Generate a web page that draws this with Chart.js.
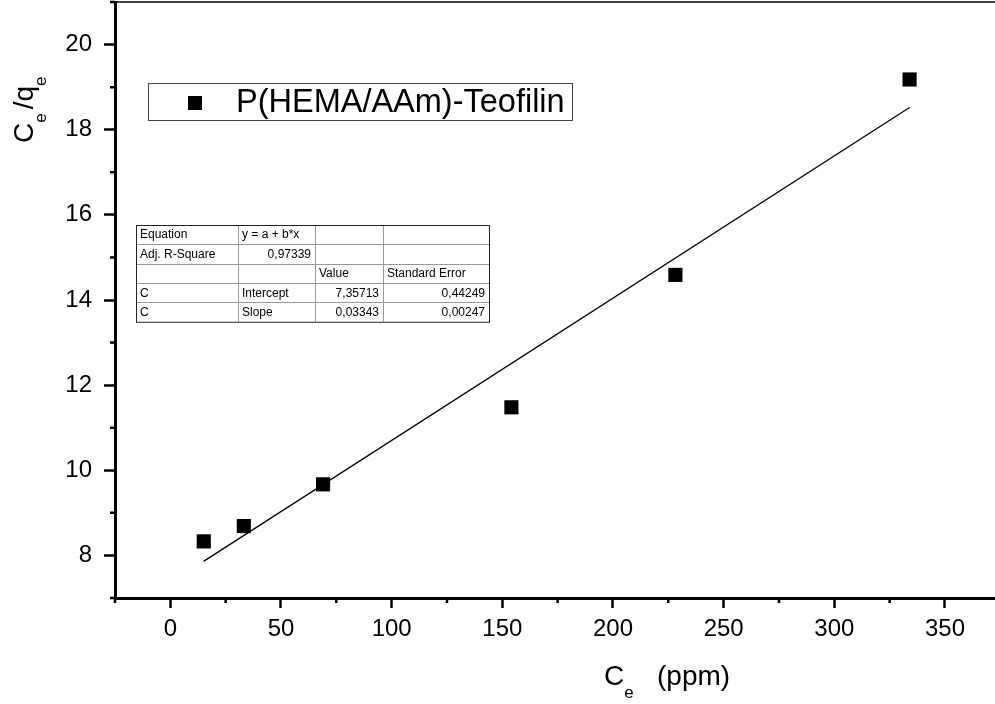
<!DOCTYPE html>
<html>
<head>
<meta charset="utf-8">
<script src="https://cdn.jsdelivr.net/npm/chart.js@4/dist/chart.umd.min.js"></script>
<style>
  html, body { margin: 0; padding: 0; background: #fff; }
  canvas { display: block; }
</style>
</head>
<body>
<canvas id="chart" width="995" height="704"></canvas>
<script>
// measured points
const ceValues = [15.1, 33.2, 69, 154.1, 228.2, 334];
const ceqeValues = [8.33, 8.69, 9.67, 11.48, 14.59, 19.18];
const seriesLabel = "P(HEMA/AAm)-Teofilin";

// fitted line, end points
const fitX = [15, 334];
const fitY = [7.86, 18.52];

const xMajorTicks = [0, 50, 100, 150, 200, 250, 300, 350];
const xMinorTicks = [-25, 25, 75, 125, 175, 225, 275, 325];
const yMajorTicks = [8, 10, 12, 14, 16, 18, 20];
const yMinorTicks = [7, 9, 11, 13, 15, 17, 19, 21];

const fitTable = [
    ["Equation", "y = a + b*x", "", ""],
    ["Adj. R-Square", "0,97339", "", ""],
    ["", "", "Value", "Standard Error"],
    ["C", "Intercept", "7,35713", "0,44249"],
    ["C", "Slope", "0,03343", "0,00247"]
];

const FONT = "'Liberation Sans', Arial, sans-serif";

function subText(ctx, parts, size) {
    // parts: [text, isSub]
    let x = 0;
    for (const [t, sub] of parts) {
        ctx.font = (sub ? Math.round(size * 0.62) : size) + "px " + FONT;
        ctx.fillText(t, x, sub ? size * 0.45 : 0);
        x += ctx.measureText(t).width + (sub ? 4 : 0);
    }
}

const extras = {
    id: "extras",
    beforeDraw(chart) {
        const c = chart.ctx;
        c.save();
        c.fillStyle = "#fff";
        c.fillRect(0, 0, chart.width, chart.height);
        c.restore();
    },
    afterDraw(chart) {
        const { ctx, chartArea: { top, bottom, left, right }, scales: { x, y } } = chart;
        ctx.save();
        ctx.strokeStyle = "#000";
        ctx.fillStyle = "#000";

        // minor ticks
        ctx.lineWidth = 2.5;
        ctx.beginPath();
        for (const v of xMinorTicks) {
            const px = x.getPixelForValue(v);
            if (px < left - 1 || px > right) continue;
            ctx.moveTo(px, bottom);
            ctx.lineTo(px, bottom + 5);
        }
        for (const v of yMinorTicks) {
            const py = y.getPixelForValue(v);
            ctx.moveTo(left, py);
            ctx.lineTo(left - 5, py);
        }
        ctx.stroke();

        // top frame line
        ctx.lineWidth = 1.5;
        ctx.beginPath();
        ctx.moveTo(left, top);
        ctx.lineTo(right, top);
        ctx.stroke();

        // axis titles
        ctx.textBaseline = "alphabetic";
        ctx.textAlign = "left";
        ctx.save();
        ctx.translate(604, 685);
        subText(ctx, [["C", false], ["e", true]], 28);
        ctx.font = "28px " + FONT;
        ctx.fillText("(ppm)", 53, 0);
        ctx.restore();

        ctx.save();
        ctx.translate(33, 143);
        ctx.rotate(-Math.PI / 2);
        subText(ctx, [["C", false], ["e", true], ["/q", false], ["e", true]], 28);
        ctx.restore();

        // legend
        ctx.lineWidth = 1;
        ctx.strokeStyle = "#444";
        ctx.strokeRect(148.5, 83.5, 424, 37);
        ctx.fillRect(188, 96, 14, 14);
        ctx.font = "32.5px " + FONT;
        ctx.textBaseline = "middle";
        ctx.fillText(chart.data.datasets[0].label, 236, 103);

        // fit table
        const colX = [136, 238, 315, 383, 489];
        const rowTop = 225, rowH = 19.35;
        ctx.font = "12px " + FONT;
        ctx.strokeStyle = "#999";
        ctx.beginPath();
        for (let i = 1; i < fitTable.length; i++) {
            ctx.moveTo(colX[0], Math.round(rowTop + i * rowH) + 0.5);
            ctx.lineTo(colX[4], Math.round(rowTop + i * rowH) + 0.5);
        }
        for (let j = 1; j < 4; j++) {
            ctx.moveTo(colX[j] + 0.5, rowTop);
            ctx.lineTo(colX[j] + 0.5, rowTop + fitTable.length * rowH);
        }
        ctx.stroke();
        ctx.strokeStyle = "#222";
        ctx.strokeRect(colX[0] + 0.5, rowTop + 0.5, colX[4] - colX[0], fitTable.length * rowH);
        fitTable.forEach((row, i) => {
            const cy = rowTop + i * rowH + rowH / 2 + 0.5;
            row.forEach((t, j) => {
                if (!t) return;
                const numeric = /^[0-9,]+$/.test(t);
                ctx.textAlign = numeric ? "right" : "left";
                ctx.fillText(t, numeric ? colX[j + 1] - 4 : colX[j] + 4, cy);
            });
        });
        ctx.restore();
    }
};

new Chart(document.getElementById("chart"), {
    type: "scatter",
    data: {
        datasets: [{
            label: seriesLabel,
            data: ceValues.map((v, i) => ({ x: v, y: ceqeValues[i] })),
            pointStyle: "rect",
            pointRadius: 10,
            pointBackgroundColor: "#000",
            pointBorderWidth: 0,
            showLine: false
        }, {
            label: "fit",
            data: fitX.map((v, i) => ({ x: v, y: fitY[i] })),
            showLine: true,
            pointRadius: 0,
            borderColor: "#000",
            borderWidth: 1.3
        }]
    },
    options: {
        responsive: false,
        animation: false,
        devicePixelRatio: 1,
        layout: { autoPadding: false, padding: { top: 2, right: 0, left: 0, bottom: 0 } },
        scales: {
            x: {
                type: "linear",
                min: -25,
                max: 372.6,
                afterBuildTicks: s => { s.ticks = xMajorTicks.map(v => ({ value: v })); },
                afterFit: s => { s.height = 106; s.paddingLeft = 0; s.paddingRight = 0; },
                ticks: { color: "#000", font: { family: FONT, size: 24 }, padding: 7, maxRotation: 0 },
                grid: { drawOnChartArea: false, tickLength: 10, tickWidth: 2.5, tickColor: "#000" },
                border: { color: "#000", width: 3 }
            },
            y: {
                min: 7,
                max: 21,
                afterBuildTicks: s => { s.ticks = yMajorTicks.map(v => ({ value: v })); },
                afterFit: s => { s.width = 115; s.paddingTop = 0; s.paddingBottom = 0; },
                ticks: { color: "#000", font: { family: FONT, size: 24 }, padding: 12 },
                grid: { drawOnChartArea: false, tickLength: 11, tickWidth: 2.5, tickColor: "#000" },
                border: { color: "#000", width: 3 }
            }
        },
        plugins: {
            legend: { display: false },
            tooltip: { enabled: false }
        }
    },
    plugins: [extras]
});
</script>
</body>
</html>
